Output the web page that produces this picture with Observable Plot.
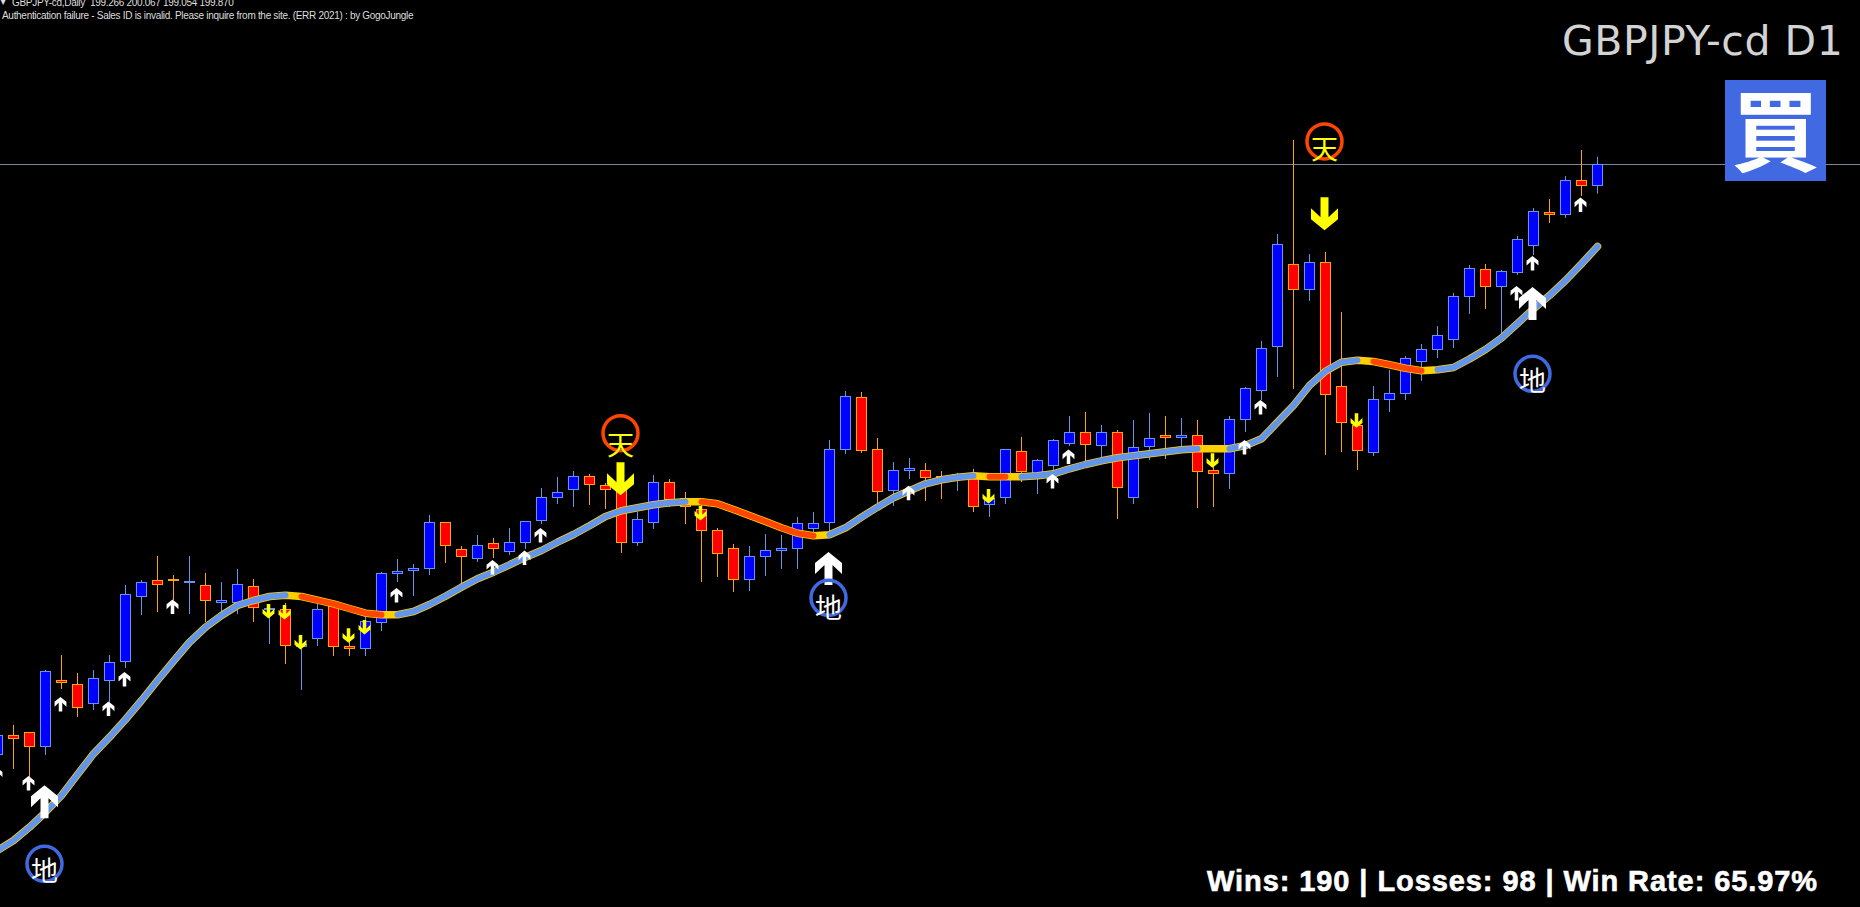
<!DOCTYPE html>
<html lang="ja">
<head>
<meta charset="utf-8">
<title>GBPJPY-cd D1</title>
<script src="https://cdn.jsdelivr.net/npm/d3@7"></script>
<script src="https://cdn.jsdelivr.net/npm/@observablehq/plot@0.6"></script>
<style>
html,body{margin:0;padding:0;background:#000;overflow:hidden}
#chart{position:relative;width:1860px;height:907px;background:#000;overflow:hidden}
#chart svg{display:block}
.ov{position:absolute;white-space:pre;line-height:1}
#h1{left:12px;top:-2.5px;font:10px/1 "Liberation Sans",Arial,sans-serif;color:#ddd;letter-spacing:-.3px}
#h0{left:0;top:-2.5px;font:8px/1 "DejaVu Sans",sans-serif;color:#ddd}
#h2{left:2px;top:11px;font:10px/1 "Liberation Sans",Arial,sans-serif;color:#ddd;letter-spacing:-.3px}
#title{left:1562px;top:20.5px;font:41px/1 "DejaVu Sans",sans-serif;color:#d3d3d3;letter-spacing:.55px}
#badge{left:1725px;top:80px;width:101px;height:101px;background:#4169e1;color:#fff;font:700 88px/92px "Noto Sans CJK JP",sans-serif;text-align:center}
#stats{left:1207px;top:866.8px;font:700 29px/1 "Liberation Sans",Arial,sans-serif;color:#fff;letter-spacing:.92px;-webkit-text-stroke:.6px #fff}
</style>
</head>
<body>
<div id="chart"></div>
<script>
// Daily candles, oldest first: GBPJPY-cd D1
const opens=[183.618,184.168,184.25,183.838,185.68,185.57,185.02,185.653,186.175,187.963,188.43,188.458,188.348,188.293,187.798,187.798,188.265,187.605,187.633,186.588,186.808,187.715,186.615,186.533,187.248,188.595,188.678,188.733,190.025,189.283,189.008,189.448,189.2,189.448,190.053,190.685,190.905,191.29,191.043,190.96,189.448,189.998,191.125,190.685,190.383,189.805,189.31,188.43,189.063,189.228,189.283,189.833,189.998,192.005,193.463,192.033,190.878,191.428,191.455,191.29,191.18,191.373,190.493,190.685,191.978,191.235,191.565,192.17,192.5,192.115,192.5,190.685,192.088,192.418,192.335,192.418,191.455,191.345,192.83,193.628,194.838,197.12,196.405,197.175,193.765,192.693,191.923,193.38,193.545,194.425,194.755,195.03,196.213,196.983,196.488,196.873,197.615,198.55,198.468,199.43,199.266];
const highs=[184.415,184.443,184.25,185.955,186.368,185.873,185.955,186.368,188.293,188.43,189.09,188.568,189.09,188.623,188.375,188.733,188.458,187.77,187.798,186.918,187.798,187.77,186.863,187.44,188.65,189.008,188.87,190.218,190.025,189.365,189.668,189.585,189.86,190.053,190.96,191.263,191.428,191.345,191.098,191.125,190.3,191.318,191.208,190.85,190.493,189.86,189.42,189.365,189.695,189.668,190.163,190.3,192.28,193.628,193.6,192.335,191.675,191.785,191.648,191.428,191.373,191.483,190.905,192.033,192.363,191.758,192.308,192.94,193.05,192.693,192.555,192.83,193.023,192.94,192.885,192.83,191.675,192.94,193.738,195.003,197.945,200.53,197.395,197.45,195.8,192.83,193.765,194.205,194.59,194.92,195.415,196.323,197.093,197.12,196.955,197.89,198.66,198.908,199.54,200.255,200.067];
const lows=[183.343,183.233,182.985,183.618,185.433,184.663,184.855,185.075,186.01,187.468,187.55,187.88,187.495,187.275,187.523,187.495,187.275,186.67,186.12,185.405,186.615,186.34,186.34,186.34,187.028,188.375,187.99,188.568,188.898,188.348,188.925,189.035,189.118,189.283,189.97,190.52,190.438,190.493,190.383,189.173,189.365,189.833,190.438,189.97,188.375,188.513,188.1,188.128,188.54,188.733,188.733,189.668,189.75,191.895,191.923,190.548,190.465,191.208,190.603,190.658,190.878,190.3,190.163,190.52,191.125,190.795,191.235,192.115,191.593,191.785,190.108,190.52,191.73,191.758,192.088,190.41,190.438,190.933,192.5,193.38,194.013,193.683,196.103,191.868,191.95,191.455,191.84,193.05,193.38,193.903,194.535,194.81,195.745,195.883,195.195,196.818,197.368,198.248,198.385,198.99,199.054];
const closes=[184.168,184.058,183.838,185.928,185.598,184.91,185.735,186.175,188.045,188.375,188.293,188.403,188.403,187.853,187.88,188.32,187.66,187.66,186.615,186.67,187.633,186.588,186.533,187.303,188.623,188.678,188.76,190.025,189.365,189.063,189.393,189.283,189.475,190.053,190.713,190.85,191.29,191.043,190.905,189.448,190.108,191.125,190.63,190.438,189.778,189.145,188.43,189.09,189.255,189.31,189.998,189.998,192.033,193.49,191.978,190.85,191.455,191.51,191.235,191.125,191.345,190.438,190.685,192.033,191.4,191.73,192.28,192.5,192.143,192.5,190.96,192.088,192.335,192.335,192.418,191.4,191.345,192.858,193.71,194.81,197.67,196.405,197.175,193.518,192.748,191.978,193.408,193.573,194.535,194.783,195.168,196.24,197.01,196.488,196.928,197.808,198.578,198.468,199.43,199.265,199.87];
const bidPrice=199.87;

// Trend-line value at each candle, and the spans where it is rising or falling
const trend=[181.005,181.28,181.646,182.058,182.518,183.095,183.664,184.121,184.608,185.13,185.68,186.211,186.733,187.146,187.468,187.743,187.88,187.99,188.026,187.99,187.888,187.789,187.66,187.531,187.487,187.487,187.578,187.77,187.998,188.246,188.477,188.658,188.862,189.071,189.255,189.483,189.695,189.934,190.19,190.347,190.429,190.512,190.567,190.594,190.594,190.539,190.383,190.218,190.053,189.879,189.731,189.659,189.687,189.879,190.171,190.446,190.704,190.897,191.089,191.199,191.271,191.309,191.282,191.282,191.282,191.309,191.364,191.502,191.62,191.722,191.804,191.859,191.914,191.969,192.024,192.052,192.052,192.052,192.143,192.327,192.783,193.243,193.793,194.186,194.433,194.488,194.453,194.362,194.268,194.197,194.224,194.288,194.521,194.783,195.099,195.498,195.902,196.268,196.68,197.139,197.615];
const riseSpans=[[0,18],[25,43],[52,61],[64,75],[77,85],[90,100]];
const fallSpans=[[19,24],[44,51],[62,63],[86,89]];

// Signals: candle index and price
const upDay=[0,2,4,7,8,11,25,31,33,34,57,66,67,78,79,95,96,99];
const upPrice=[183.095,182.856,185.028,184.902,185.716,187.707,188.026,188.796,189.054,189.676,190.836,191.161,191.832,192.096,193.196,196.331,197.156,198.762];
const downDay=[17,18,19,22,23,44,62,76,85];
const downPrice=[187.586,187.558,186.733,186.918,187.146,190.281,190.748,191.73,192.83];
const bigUpDay=[3,52,96];
const bigUpPrice=[182.344,188.76,196.048];
const bigDownDay=[39,83];
const bigDownPrice=[191.227,198.514];
const bottomDay=[3,52,96];
const bottomCircle=[180.639,187.954,194.114];
const bottomLabel=[180.408,187.641,193.867];
const topDay=[39,83];
const topCircle=[192.481,200.503];
const topLabel=[192.109,200.247];

const candles=opens.map((o,i)=>({i,o,h:highs[i],l:lows[i],c:closes[i],up:closes[i]>=o}));
const bull=candles.filter(d=>d.up), bear=candles.filter(d=>!d.up);
const trendRows=trend.map((v,i)=>({i,v}));
const spanRows=s=>s.flatMap((r,k)=>trendRows.slice(r[0],r[1]+1).map(d=>({...d,seg:k})));
const pairs=(a,b)=>a.map((i,k)=>({i,v:b[k]}));

function arrow(scale,dir){
  const pts=[[0,-16.5],[13.5,-5.5],[13.5,5.5],[4,-3.5],[4,16.5],[-4,16.5],[-4,-3.5],[-13.5,5.5],[-13.5,-5.5]];
  return {draw(ctx){pts.forEach((p,k)=>{const x=p[0]*scale,y=p[1]*scale*dir;k?ctx.lineTo(x,y):ctx.moveTo(x,y);});ctx.closePath();}};
}
const sign=(rows,scale,dir,fill)=>Plot.dot(rows,{x:"i",y:"v",r:5,symbol:arrow(scale,dir),fill,stroke:"none",dx:-1});
const bodyOpts={x1:d=>d.i-5/16,x2:d=>d.i+6/16,y1:"o",y2:"c",insetTop:.5,insetBottom:.5,insetLeft:.5,insetRight:.5,strokeWidth:1,shapeRendering:"crispEdges"};

const plot=Plot.plot({
  width:1860,height:907,margin:0,
  style:{background:"#000",overflow:"hidden"},
  x:{domain:[3/16,1863/16],range:[0,1860],axis:null},
  y:{domain:[204.38,179.4375],range:[0,907],axis:null},
  marks:[
    Plot.ruleY([bidPrice],{stroke:"#778899",strokeWidth:1}),
    Plot.ruleX(bull,{x:"i",y1:"l",y2:"h",stroke:"#6495ed",strokeWidth:1}),
    Plot.ruleX(bear,{x:"i",y1:"l",y2:"h",stroke:"#ffa500",strokeWidth:1}),
    Plot.rect(bull,{...bodyOpts,fill:"#0000ff",stroke:"#6495ed"}),
    Plot.rect(bear,{...bodyOpts,fill:"#ff0000",stroke:"#ffa500"}),
    Plot.line(trendRows,{x:"i",y:"v",stroke:"#ffd000",strokeWidth:7.5,curve:"linear"}),
    Plot.line(spanRows(riseSpans),{x:"i",y:"v",z:"seg",stroke:"#6495ed",strokeWidth:6,curve:"linear"}),
    Plot.line(spanRows(fallSpans),{x:"i",y:"v",z:"seg",stroke:"#ff4500",strokeWidth:6,curve:"linear"}),
    sign(pairs(bigUpDay,bigUpPrice),1,1,"#fff"),
    sign(pairs(bigDownDay,bigDownPrice),1,-1,"#ffff00"),
    sign(pairs(upDay,upPrice),.44,1,"#fff"),
    sign(pairs(downDay,downPrice),.44,-1,"#ffff00"),
    Plot.dot(pairs(topDay,topCircle),{x:"i",y:"v",r:17.5,fill:"none",stroke:"#ff4500",strokeWidth:3.5,dx:-1}),
    Plot.dot(pairs(bottomDay,bottomCircle),{x:"i",y:"v",r:17.5,fill:"none",stroke:"#4169e1",strokeWidth:3.5,dx:-1}),
    Plot.text(pairs(topDay,topLabel),{x:"i",y:"v",text:()=>"天",fill:"#ffff00",fontSize:27,fontFamily:"Noto Sans CJK JP",dx:-1}),
    Plot.text(pairs(bottomDay,bottomLabel),{x:"i",y:"v",text:()=>"地",fill:"#fff",fontSize:27,fontFamily:"Noto Sans CJK JP",dx:-1})
  ]
});
const chart=document.getElementById("chart");
chart.appendChild(plot);
const over=(id,text)=>{const e=document.createElement("div");e.className="ov";e.id=id;e.textContent=text;chart.appendChild(e);};
over("h0","▼");
over("h1","GBPJPY-cd,Daily  199.266 200.067 199.054 199.870");
over("h2","Authentication failure - Sales ID is invalid. Please inquire from the site. (ERR 2021) : by GogoJungle");
over("title","GBPJPY-cd D1");
over("badge","買");
over("stats","Wins: 190 | Losses: 98 | Win Rate: 65.97%");
</script>
</body>
</html>
